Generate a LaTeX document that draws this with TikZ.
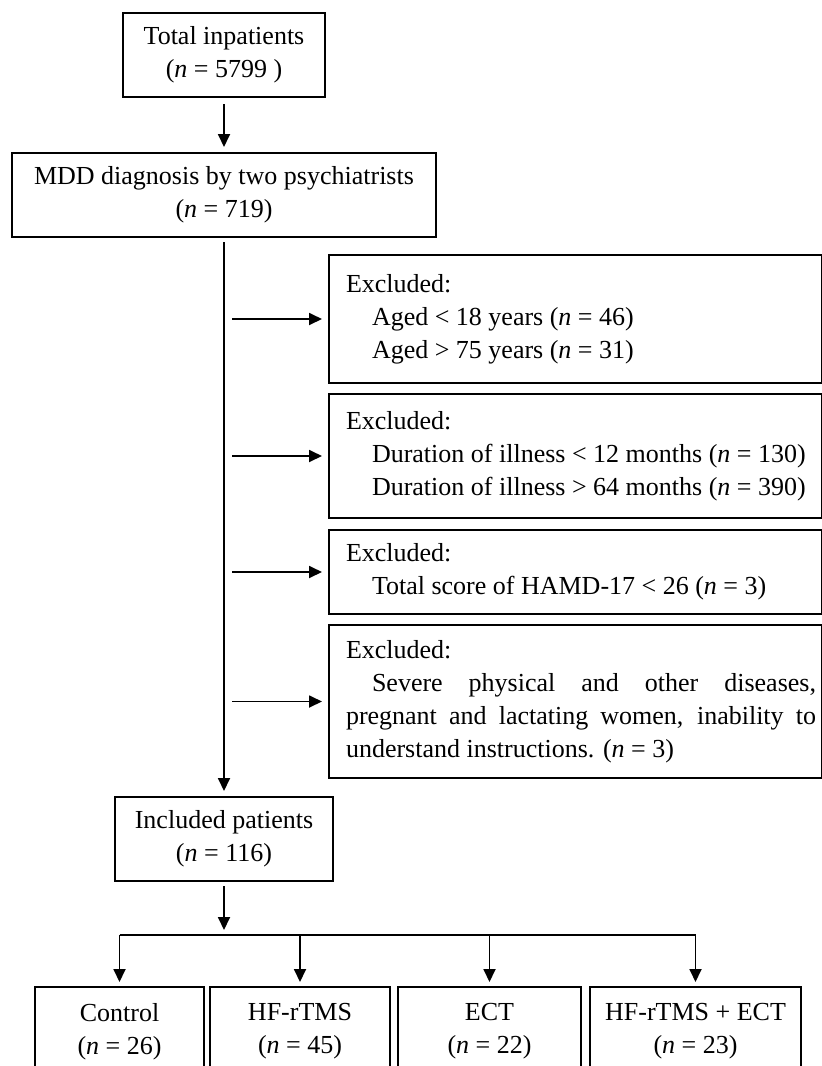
\documentclass[tikz,border=0pt]{standalone}
\usepackage{fontspec}
\setmainfont{Liberation Serif}
\usepackage{tikz}
\usetikzlibrary{
  arrows.meta,
  positioning
}
\definecolor{fcLine}{HTML}{000000}
\newcommand{\nn}{\textit{n}}
% text block of an exclusion box: 17pt left margin, 470pt text, 6pt right margin
\newcommand{\exlines}[1]{\hspace*{17pt}\parbox[c]{470pt}{\setlength{\parindent}{0pt}#1}\hspace*{6pt}}
\tikzset{
  fcnode/.style={
    draw=fcLine, line width=2pt, inner sep=0pt,
    font=\fontsize{26}{33}\selectfont
  },
  fcbox/.style={fcnode, minimum height=84pt, align=center},
  exbox/.style={fcnode, anchor=north west, minimum width=493pt},
  groupbox/.style={fcnode, anchor=north, minimum height=89pt, align=center},
  flow/.style={-{Triangle[length=13pt, width=12pt]}, line width=1.8pt, fcLine},
  busline/.style={line width=1.8pt, fcLine}
}

\begin{document}
\begin{tikzpicture}[x=1pt, y=-1pt]
  \useasboundingbox (0,0) rectangle (822,1066);
  \clip (0,0) rectangle (822,1066);

  % main column
  \node[fcbox, minimum width=202pt] (total) at (224,55) {Total inpatients\\(\nn{} = 5799 )};
  \node[fcbox, minimum width=424pt] (mdd) at (224,195) {MDD diagnosis by two psychiatrists\\(\nn{} = 719)};
  \node[fcbox, minimum width=218pt] (incl) at (224,839) {Included patients\\(\nn{} = 116)};

  % exclusions
  \node[exbox, minimum height=128pt] (ex1) at (328,254) {\exlines{\raggedright Excluded:\\
    \hspace*{1em}Aged < 18 years (\nn{} = 46)\\
    \hspace*{1em}Aged > 75 years (\nn{} = 31)}};
  \node[exbox, minimum height=124pt] (ex2) at (328,393) {\exlines{\raggedright Excluded:\\
    \hspace*{1em}Duration of illness < 12 months (\nn{} = 130)\\
    \hspace*{1em}Duration of illness > 64 months (\nn{} = 390)}};
  \node[exbox, minimum height=84pt] (ex3) at (328,529) {\exlines{\raggedright Excluded:\\
    \hspace*{1em}Total score of HAMD-17 < 26 (\nn{} = 3)}};
  \node[exbox, minimum height=153pt] (ex4) at (328,624) {\exlines{Excluded:\newline
    \hspace*{1em}Severe physical and other diseases,\linebreak
    pregnant and lactating women, inability to\linebreak
    understand instructions. (\nn{} = 3)}};

  % groups
  \node[groupbox, minimum width=169pt] (ctrl) at (119.5,986) {Control\\(\nn{} = 26)};
  \node[groupbox, minimum width=180pt] (hfr) at (300,986) {HF-rTMS\\(\nn{} = 45)};
  \node[groupbox, minimum width=183pt] (ect) at (489.5,986) {ECT\\(\nn{} = 22)};
  \node[groupbox, minimum width=211pt] (combo) at (695.5,986) {HF-rTMS + ECT\\(\nn{} = 23)};
  \coordinate (bus) at (0,935);

  \draw[flow, shorten <=6pt, shorten >=5pt] (total) -- (mdd);
  \draw[flow, shorten <=4pt, shorten >=5pt] (mdd) -- (incl);
  \foreach \ex in {ex1,ex2,ex3,ex4}
    \draw[flow, shorten <=8pt, shorten >=6pt] (mdd.south |- \ex.west) -- (\ex.west);

  \draw[flow, shorten <=4pt, shorten >=5pt] (incl) -- (incl.south |- bus);
  \draw[busline] (ctrl.north |- bus) -- (combo.north |- bus);
  \foreach \g in {ctrl,hfr,ect,combo}
    \draw[flow, shorten >=4pt] (\g.north |- bus) -- (\g.north);
\end{tikzpicture}
\end{document}
